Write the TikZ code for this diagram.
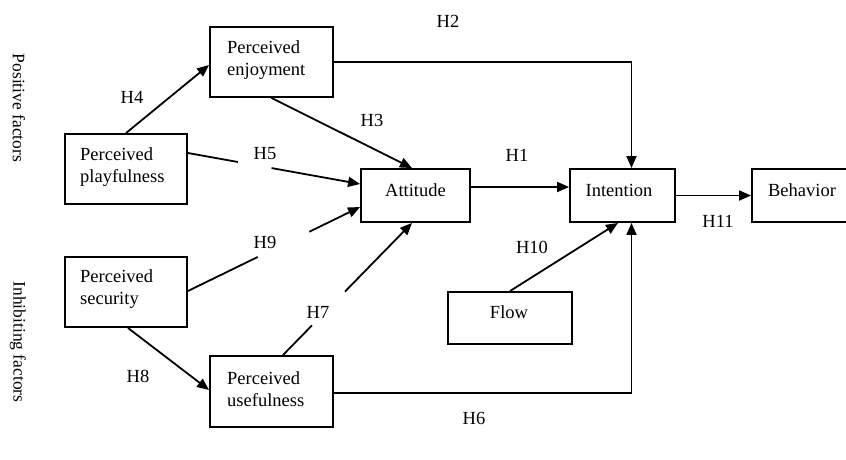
\documentclass[tikz,border=0pt]{standalone}
\usepackage{fontspec}
\setmainfont{Liberation Serif}
\usetikzlibrary{arrows.meta}
\begin{document}
\begin{tikzpicture}[x=1pt,y=-1pt,
  box/.style={draw, line width=1.9pt, rectangle, inner sep=0pt},
  txt/.style={inner sep=0pt, font=\fontsize{18.5}{22}\selectfont, align=left},
  hyp/.style={inner sep=0pt, font=\fontsize{18.5}{22}\selectfont},
  side/.style={inner sep=0pt, font=\fontsize{17.5}{21}\selectfont, rotate=-90},
  link/.style={line width=1.8pt},
  arr/.style={line width=1.8pt, -{Triangle[length=12pt,width=10pt]}},
]
\useasboundingbox (0,0) rectangle (846,459);

% construct boxes
\node[box, minimum width=123pt, minimum height=70pt] (enj)  at (271.5,62)   {};
\node[box, minimum width=122pt, minimum height=70pt] (play) at (126,169)    {};
\node[box, minimum width=109pt, minimum height=53pt] (att)  at (415.5,195.5) {};
\node[box, minimum width=105pt, minimum height=53pt] (int)  at (622.5,195.5) {};
\node[box, minimum width=100pt, minimum height=53pt] (beh)  at (802,195.5)  {};
\node[box, minimum width=122pt, minimum height=70pt] (sec)  at (126,292)    {};
\node[box, minimum width=124pt, minimum height=52pt] (flow) at (510,318)    {};
\node[box, minimum width=123pt, minimum height=71pt] (use)  at (271.5,391.5) {};

% box texts
\node[txt, anchor=west] (enj-t)  at (227,60)  {Perceived\\enjoyment};
\node[txt, anchor=west] (play-t) at (80,167)  {Perceived\\playfulness};
\node[txt, anchor=west] (sec-t)  at (80,289)  {Perceived\\security};
\node[txt, anchor=west] (use-t)  at (227,389) {Perceived\\usefulness};
\node[txt] (att-t)  at (415.5,190) {Attitude};
\node[txt] (int-t)  at (619,190)   {Intention};
\node[txt] (beh-t)  at (802,190)   {Behavior};
\node[txt] (flow-t) at (509,312)   {Flow};

% group captions
\node[side] (pos) at (19,108) {Positive factors};
\node[side] (inh) at (18,342) {Inhibiting factors};

% hypothesis labels
\node[hyp] (h1)  at (517,155) {H1};
\node[hyp] (h2)  at (448,21)  {H2};
\node[hyp] (h3)  at (372,120) {H3};
\node[hyp] (h4)  at (132,97)  {H4};
\node[hyp] (h5)  at (265,154) {H5};
\node[hyp] (h6)  at (474,418) {H6};
\node[hyp] (h7)  at (318,312) {H7};
\node[hyp] (h8)  at (138,376) {H8};
\node[hyp] (h9)  at (265,242) {H9};
\node[hyp] (h10) at (532,247) {H10};
\node[hyp] (h11) at (718,221) {H11};

% paths
\draw[arr] (play.north) -- ([yshift=-3pt]enj.west);
\draw[arr] (enj.south) -- ([xshift=-3.5pt]att.north);
\draw[arr] (enj.east) -| ([xshift=9pt]int.north);
\draw[arr] ([yshift=8.5pt]att.east) -- ([yshift=8.5pt]int.west);
\draw[arr] (int.east) -- (beh.west);
\draw[arr] ([xshift=2pt]sec.south) -- ([yshift=1.5pt]use.west);
\draw[arr] (flow.north) -- ([xshift=-4.5pt]int.south);
\draw[arr] ([yshift=-1.5pt]use.east) -| ([xshift=9pt]int.south);

% broken paths around their labels
\path ([yshift=16pt]play.east) -- ([yshift=11.5pt]att.west)
  coordinate[pos=0.29] (h5a) coordinate[pos=0.486] (h5b);
\draw[link] ([yshift=16pt]play.east) -- (h5a);
\draw[arr] (h5b) -- ([yshift=11.5pt]att.west);

\path ([yshift=1pt]sec.east) -- ([yshift=-11.5pt]att.west)
  coordinate[pos=0.405] (h9a) coordinate[pos=0.705] (h9b);
\draw[link] ([yshift=1pt]sec.east) -- (h9a);
\draw[arr] (h9b) -- ([yshift=-11.5pt]att.west);

\path ([xshift=11.5pt]use.north) -- ([xshift=-3.5pt]att.south)
  coordinate[pos=0.225] (h7a) coordinate[pos=0.48] (h7b);
\draw[link] ([xshift=11.5pt]use.north) -- (h7a);
\draw[arr] (h7b) -- ([xshift=-3.5pt]att.south);
\end{tikzpicture}
\end{document}
